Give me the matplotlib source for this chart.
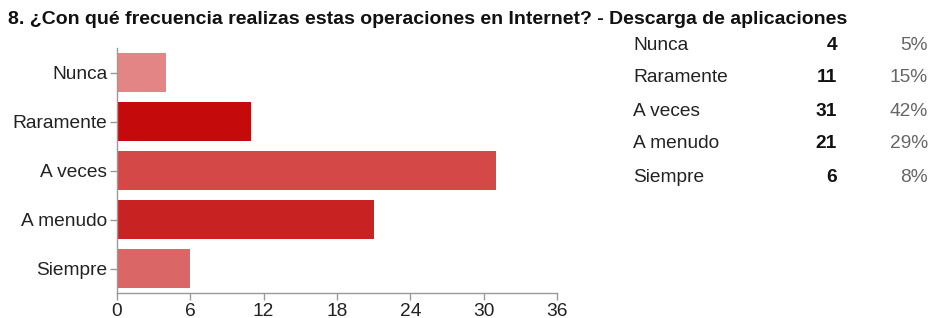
import matplotlib.pyplot as plt

plt.rcParams["font.family"] = ["Liberation Sans", "DejaVu Sans"]

title = "8. ¿Con qué frecuencia realizas estas operaciones en Internet? - Descarga de aplicaciones"
categories = ["Nunca", "Raramente", "A veces", "A menudo", "Siempre"]
counts = [4, 11, 31, 21, 6]
percents = ["5%", "15%", "42%", "29%", "8%"]
colors = ["#E38585", "#C40A0A", "#D44848", "#C92222", "#DB6666"]
xticks = [0, 6, 12, 18, 24, 30, 36]

W, H = 934, 318
fs = 13.8
fig = plt.figure(figsize=(W / 100, H / 100), dpi=100)

# ejes del gráfico de barras (en píxeles -> fracciones)
ax = fig.add_axes([117 / W, 1 - 293 / H, (557 - 117) / W, (293 - 48) / H])
ypos = list(range(len(categories)))
ax.barh(ypos, counts, height=0.8, color=colors, edgecolor="none")
ax.set_ylim(len(categories) - 0.5, -0.5)
ax.set_xlim(0, 36)
ax.set_xticks(xticks)
ax.set_yticks(ypos)
ax.set_yticklabels(categories)
for s in ["top", "right"]:
    ax.spines[s].set_visible(False)
for s in ["left", "bottom"]:
    ax.spines[s].set_color("#999999")
    ax.spines[s].set_linewidth(1)
ax.tick_params(colors="#999999", labelcolor="#222222", labelsize=fs, length=5, width=1, pad=2)

fig.text(8 / W, 1 - 20 / H, title, fontsize=14, fontweight="bold", va="center", ha="left", color="#111111")

# tabla de resumen a la derecha
row_y = [45, 78, 111, 144, 177]
for cat, n, p, y in zip(categories, counts, percents, row_y):
    fy = 1 - y / H
    fig.text(633 / W, fy, cat, fontsize=fs, va="center", ha="left", color="#222222")
    fig.text(837 / W, fy, str(n), fontsize=fs, va="center", ha="right", fontweight="bold", color="#111111")
    fig.text(928 / W, fy, p, fontsize=fs, va="center", ha="right", color="#666666")

fig.savefig("out.png", dpi=100)
